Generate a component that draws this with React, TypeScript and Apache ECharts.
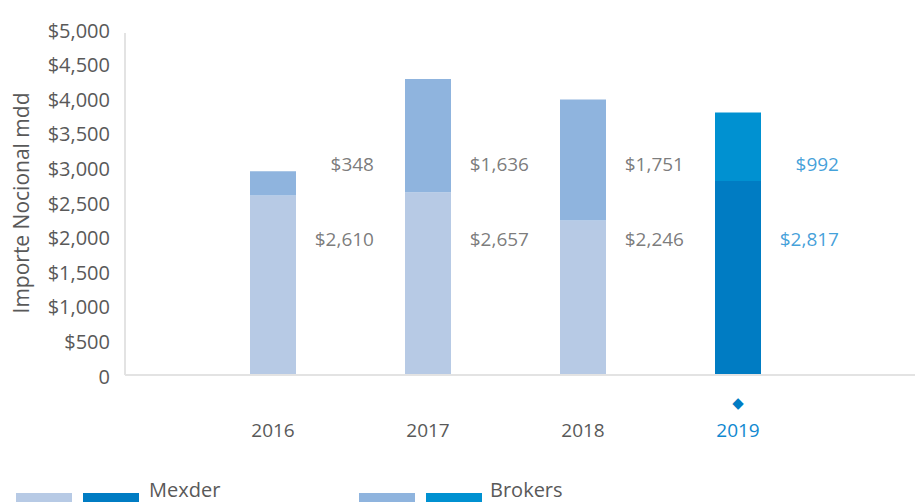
import React, { useEffect, useRef } from "react";
import * as echarts from "echarts";

const CATEGORIES = ["2016", "2017", "2018", "2019"];
const MEXDER = [2610, 2657, 2246, 2817];
const BROKERS = [348, 1636, 1751, 992];
const HIGHLIGHT = "2019";
const Y_MIN = 0;
const Y_MAX = 5000;
const Y_INTERVAL = 500;
const AXIS_NAME = "Importe Nocional mdd";
const LEGEND_NAMES = ["Mexder", "Brokers"];
// fixed heights (in axis units) where the value labels sit
const LABEL_LOW = 1980;
const LABEL_HIGH = 3060;

const GRAY = "#595959";
const BLUE_TEXT = "#1088d0";
const MEX_LIGHT = "#b7cae5";
const MEX_DARK = "#007cc3";
const BRO_LIGHT = "#8fb4de";
const BRO_DARK = "#0091d1";
const FONT = "'Open Sans', 'Noto Sans', sans-serif";

const fmt = (v: number) => "$" + v.toLocaleString("en-US");

export default function App() {
  const ref = useRef<HTMLDivElement>(null);
  useEffect(() => {
    if (!ref.current) return;
    const chart = echarts.init(ref.current, undefined, { renderer: "svg" });
    const padded = ["", ...CATEGORIES, ""];
    const barData = (vals: number[], light: string, dark: string) => [
      null,
      ...vals.map((v, i) => ({
        value: v,
        itemStyle: { color: CATEGORIES[i] === HIGHLIGHT ? dark : light },
      })),
      null,
    ];
    const labelData = (vals: number[], y: number) =>
      vals.map((v, i) => ({
        value: [CATEGORIES[i], y],
        label: {
          formatter: fmt(v),
          color: CATEGORIES[i] === HIGHLIGHT ? BLUE_TEXT : GRAY,
        },
      }));
    const labelSeries = (vals: number[], y: number) => ({
      type: "scatter",
      symbolSize: 0,
      silent: true,
      data: labelData(vals, y),
      label: {
        show: true,
        position: "inside",
        offset: [101, 0],
        align: "right",
        verticalAlign: "middle",
        fontSize: 19,
        fontFamily: FONT,
      },
      z: 5,
    });
    chart.setOption({
      animation: false,
      textStyle: { fontFamily: FONT },
      grid: { left: 118, right: 22, top: 30, bottom: 126, outerBoundsMode: "none" },
      xAxis: {
        type: "category",
        boundaryGap: false,
        data: padded,
        axisLine: { show: false },
        axisTick: { show: false },
        axisLabel: {
          interval: 0,
          margin: 13,
          formatter: (v: string) =>
            v === ""
              ? ""
              : v === HIGHLIGHT
              ? `{d|◆}\n{hy|${v}}`
              : `{d| }\n{y|${v}}`,
          rich: {
            d: { fontSize: 15, lineHeight: 28, color: MEX_DARK, fontFamily: "DejaVu Sans" },
            y: { fontSize: 19, lineHeight: 26, color: GRAY, fontFamily: FONT },
            hy: { fontSize: 19, lineHeight: 26, color: BLUE_TEXT, fontFamily: FONT },
          },
        },
      },
      yAxis: {
        type: "value",
        min: Y_MIN,
        max: Y_MAX,
        interval: Y_INTERVAL,
        splitLine: { show: false },
        axisLine: { show: false },
        axisTick: { show: false },
        axisLabel: {
          margin: 8,
          fontSize: 20,
          color: GRAY,
          fontFamily: FONT,
          formatter: (v: number) => (v === 0 ? "0" : fmt(v)),
        },
        name: AXIS_NAME,
        nameLocation: "middle",
        nameGap: 87,
        nameTextStyle: { fontSize: 21, color: GRAY, fontFamily: FONT },
      },
      series: [
        {
          name: LEGEND_NAMES[0],
          type: "bar",
          stack: "total",
          barWidth: 46,
          data: barData(MEXDER, MEX_LIGHT, MEX_DARK),
        },
        {
          name: LEGEND_NAMES[1],
          type: "bar",
          stack: "total",
          barWidth: 46,
          data: barData(BROKERS, BRO_LIGHT, BRO_DARK),
        },
        labelSeries(MEXDER, LABEL_LOW),
        labelSeries(BROKERS, LABEL_HIGH),
      ],
      graphic: [
        { type: "line", shape: { x1: 125, y1: 33, x2: 125, y2: 375 }, style: { stroke: "#e3e3e3", lineWidth: 2 }, z: 10 },
        { type: "line", shape: { x1: 125, y1: 375, x2: 915, y2: 375 }, style: { stroke: "#e3e3e3", lineWidth: 2 }, z: 10 },
        { type: "rect", shape: { x: 16, y: 493, width: 56, height: 17 }, style: { fill: MEX_LIGHT } },
        { type: "rect", shape: { x: 83, y: 493, width: 56, height: 17 }, style: { fill: MEX_DARK } },
        { type: "text", x: 149, y: 499, style: { text: LEGEND_NAMES[0], fontSize: 20, fill: GRAY, fontFamily: FONT, verticalAlign: "bottom" } },
        { type: "rect", shape: { x: 359, y: 493, width: 56, height: 17 }, style: { fill: BRO_LIGHT } },
        { type: "rect", shape: { x: 426, y: 493, width: 56, height: 17 }, style: { fill: BRO_DARK } },
        { type: "text", x: 490, y: 499, style: { text: LEGEND_NAMES[1], fontSize: 20, fill: GRAY, fontFamily: FONT, verticalAlign: "bottom" } },
      ],
    });
    return () => chart.dispose();
  }, []);
  return (
    <div
      ref={ref}
      style={{ position: "fixed", left: 0, top: 0, width: 915, height: 502, background: "#fff" }}
    />
  );
}
